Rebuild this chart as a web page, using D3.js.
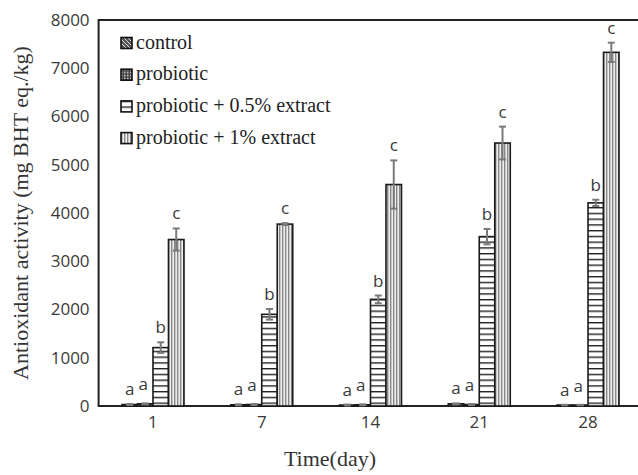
<!DOCTYPE html>
<html>
<head>
	<title>antioxidant</title>
	<style>
	body { margin: 0; background: #fff; }
	.tick text, .letter { font-family: 'Open Sans', sans-serif; font-size: 17px; fill: #3a3a3a; }
	.title { font-family: 'Liberation Serif', 'Times New Roman', serif; font-size: 22px; fill: #333; text-anchor: middle; }
	.legtext { font-family: 'Liberation Serif', 'Times New Roman', serif; font-size: 20px; fill: #222; dominant-baseline: middle; }
	</style>
	<script src="https://d3js.org/d3.v7.min.js"></script>
</head>
<body>
	<script type="text/javascript">
		var days = ['1', '7', '14', '21', '28'];
		var seriesNames = ['control', 'probiotic', 'probiotic + 0.5% extract', 'probiotic + 1% extract'];
		var control = [30, 25, 20, 45, 20];
		var probiotic = [45, 30, 25, 30, 20];
		var ext05 = [1210, 1900, 2210, 3510, 4210];
		var ext1 = [3450, 3770, 4590, 5450, 7330];
		var controlErr = [10, 10, 10, 10, 5];
		var probioticErr = [10, 10, 10, 10, 5];
		var ext05Err = [110, 110, 80, 160, 65];
		var ext1Err = [230, 20, 500, 340, 200];
		var letters = ['a', 'a', 'b', 'c'];
		var yTicks = [0, 1000, 2000, 3000, 4000, 5000, 6000, 7000, 8000];

		var svgWidth = 638, svgHeight = 475;
		var plotLeft = 98.6, plotRight = 642.4, plotTop = 20, plotBottom = 406;
		var barW = 15.5;

		var series = [control, probiotic, ext05, ext1];
		var errs = [controlErr, probioticErr, ext05Err, ext1Err];

		var svg = d3.select('body').append('svg')
			.attr('width', svgWidth)
			.attr('height', svgHeight);

		var defs = svg.append('defs');

		// 斜线
		var p0 = defs.append('pattern').attr('id', 'pat0').attr('patternUnits', 'userSpaceOnUse')
			.attr('width', 4).attr('height', 4);
		p0.append('rect').attr('width', 4).attr('height', 4).attr('fill', '#555');
		p0.append('path').attr('d', 'M0,0L4,4').attr('stroke', '#ddd').attr('stroke-width', 1);

		// 网格
		var p1 = defs.append('pattern').attr('id', 'pat1').attr('patternUnits', 'userSpaceOnUse')
			.attr('width', 3).attr('height', 3);
		p1.append('rect').attr('width', 3).attr('height', 3).attr('fill', '#444');
		p1.append('rect').attr('width', 1.5).attr('height', 1.5).attr('fill', '#ddd');

		// 横线
		var p2 = defs.append('pattern').attr('id', 'pat2').attr('patternUnits', 'userSpaceOnUse')
			.attr('width', 8).attr('height', 5.75);
		p2.append('rect').attr('width', 8).attr('height', 5.75).attr('fill', '#fff');
		p2.append('rect').attr('width', 8).attr('height', 1.4).attr('fill', '#222');

		// 竖线
		var p3 = defs.append('pattern').attr('id', 'pat3').attr('patternUnits', 'userSpaceOnUse')
			.attr('width', 3).attr('height', 8);
		p3.append('rect').attr('width', 3).attr('height', 8).attr('fill', '#eee');
		p3.append('rect').attr('width', 1.4).attr('height', 8).attr('fill', '#888');

		var x = d3.scaleBand().domain(days).range([plotLeft, plotRight]).padding(0);
		var y = d3.scaleLinear().domain([0, 8000]).range([plotBottom, plotTop]);

		// 图框
		svg.append('rect')
			.attr('x', plotLeft).attr('y', plotTop)
			.attr('width', plotRight - plotLeft).attr('height', plotBottom - plotTop)
			.attr('fill', 'none').attr('stroke', '#222').attr('stroke-width', 2);

		// y轴
		var yAxis = svg.append('g')
			.attr('transform', 'translate(' + plotLeft + ',0)')
			.call(d3.axisLeft(y).tickValues(yTicks).tickFormat(d3.format('d')).tickSize(0).tickPadding(9));
		yAxis.select('.domain').remove();

		// x轴
		var xAxis = svg.append('g')
			.attr('transform', 'translate(0,' + plotBottom + ')')
			.call(d3.axisBottom(x).tickSize(0).tickPadding(10));
		xAxis.select('.domain').remove();

		function barX(si, d) {
			return x(d) + x.bandwidth() / 2 + (si - 2) * barW;
		}

		series.forEach(function (vals, si) {
			var g = svg.append('g');
			g.selectAll('rect')
				.data(days)
				.enter()
				.append('rect')
				.attr('x', function (d) { return barX(si, d); })
				.attr('y', function (d, i) { return y(vals[i]); })
				.attr('width', barW)
				.attr('height', function (d, i) { return plotBottom - y(vals[i]); })
				.attr('fill', 'url(#pat' + si + ')')
				.attr('stroke', '#1a1a1a')
				.attr('stroke-width', 1.6);

			// 误差线
			var eg = svg.append('g').attr('stroke', '#7a7a7a').attr('stroke-width', 2);
			days.forEach(function (d, i) {
				var cx = barX(si, d) + barW / 2;
				var y1 = y(vals[i] + errs[si][i]);
				var y2 = y(Math.max(0, vals[i] - errs[si][i]));
				eg.append('line').attr('x1', cx).attr('x2', cx).attr('y1', y1).attr('y2', y2);
				eg.append('line').attr('x1', cx - 3.5).attr('x2', cx + 3.5).attr('y1', y1).attr('y2', y1);
				eg.append('line').attr('x1', cx - 3.5).attr('x2', cx + 3.5).attr('y1', y2).attr('y2', y2);
			});

			// 字母标注
			g.selectAll('text')
				.data(days)
				.enter()
				.append('text')
				.attr('class', 'letter')
				.attr('text-anchor', 'middle')
				.attr('x', function (d) { return barX(si, d) + barW / 2 - (si === 1 ? 2 : 0); })
				.attr('y', function (d, i) { return y(vals[i] + errs[si][i]) - (si === 1 ? 13 : 9); })
				.text(letters[si]);
		});

		// 图例
		var legend = svg.selectAll('.leg')
			.data(seriesNames)
			.enter()
			.append('g')
			.attr('class', 'leg')
			.attr('transform', function (d, i) { return 'translate(121,' + (43 + i * 31.7) + ')'; });
		legend.append('rect')
			.attr('x', 0).attr('y', -5.5)
			.attr('width', 11).attr('height', 11)
			.attr('fill', function (d, i) { return 'url(#pat' + i + ')'; })
			.attr('stroke', '#111').attr('stroke-width', 1.6);
		legend.append('text')
			.attr('class', 'legtext')
			.attr('x', 15).attr('y', 1)
			.text(function (d) { return d; });

		// 轴标题
		svg.append('text')
			.attr('class', 'title')
			.attr('transform', 'translate(28,' + ((plotTop + plotBottom) / 2) + ') rotate(-90)')
			.text('Antioxidant activity (mg BHT eq./kg)');
		svg.append('text')
			.attr('class', 'title')
			.attr('x', 330).attr('y', 466)
			.text('Time(day)');
	</script>
</body>
</html>
